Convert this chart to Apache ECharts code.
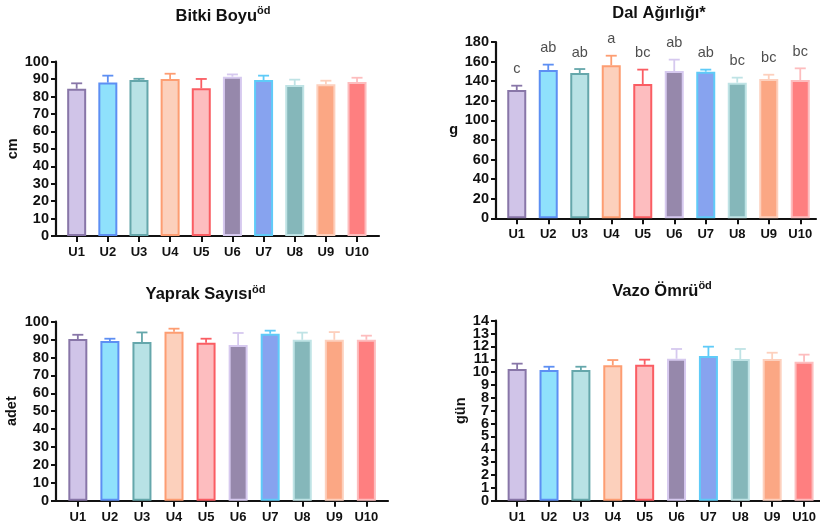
<!DOCTYPE html>
<html>
<head>
<meta charset="utf-8">
<script src="https://cdn.jsdelivr.net/npm/echarts@6/dist/echarts.min.js"></script>
<style>
html,body{margin:0;padding:0;background:#fff;}
#c{width:820px;height:528px;}
</style>
</head>
<body>
<div id="c"></div>
<script>
// ---------- data ----------
const categories = ['U1','U2','U3','U4','U5','U6','U7','U8','U9','U10'];

const bitkiBoyu    = [84.5, 88.0, 89.5, 90.1, 84.7, 91.4, 89.5, 86.6, 87.0, 88.4];
const bitkiBoyuErr = [3.1, 4.0, 0.7, 3.0, 5.4, 1.3, 2.5, 3.1, 2.1, 2.4];

const dalAgirligi    = [131.0, 151.4, 148.3, 156.2, 137.1, 150.4, 149.7, 138.5, 142.2, 141.2];
const dalAgirligiErr = [4.4, 5.5, 4.1, 9.8, 14.7, 11.6, 2.1, 5.1, 4.4, 11.9];
const dalLetters     = ['c','ab','ab','a','bc','ab','ab','bc','bc','bc'];

const yaprakSayisi    = [90.3, 89.2, 88.6, 94.4, 88.3, 87.0, 93.3, 89.9, 89.9, 89.9];
const yaprakSayisiErr = [2.4, 1.3, 5.4, 1.7, 2.2, 6.7, 1.7, 4.0, 4.3, 2.3];

const vazoOmru    = [10.24, 10.16, 10.16, 10.53, 10.58, 11.04, 11.25, 11.02, 11.02, 10.81];
const vazoOmruErr = [0.42, 0.26, 0.26, 0.41, 0.39, 0.76, 0.73, 0.78, 0.49, 0.55];

const yMax      = [100, 180, 100, 14];
const yInterval = [10, 20, 10, 1];
const yNames    = ['cm', 'g', 'adet', 'gün'];
const titles    = ['{t|Bitki Boyu}{s|öd}', '{t|Dal Ağırlığı*}', '{t|Yaprak Sayısı}{s|öd}', '{t|Vazo Ömrü}{s|öd}'];

// ---------- styles ----------
const fills   = ['#d0c4e8','#8fe1fc','#b8e2e5','#fcd0bc','#fdbdbf','#9688ab','#87a3ef','#85b7ba','#fba784','#fe7f80'];
const borders = ['#8876a8','#5d8ff3','#65a7ab','#fd9d72','#fa5d63','#d6c9ef','#5fcbf8','#bfe3e5','#fdd0bd','#fdbdbe'];
const F = '"Liberation Sans", Arial, Helvetica, sans-serif';
const INK = '#111';

// layout per panel: frame grid (axes) and bar grid (categories)
const frames = [
  {left: 56,  top: 61.7,  width: 323, height: 174.3},
  {left: 496, top: 42,    width: 320, height: 176.3},
  {left: 56,  top: 321.7, width: 332, height: 179},
  {left: 496, top: 320.7, width: 330, height: 180}
];
const barGrids = [
  {left: 61.1,  width: 311.5},
  {left: 501,   width: 315},
  {left: 61.8,  width: 320.6},
  {left: 501.2, width: 321.9}
];
const titlePos = [
  {x: 223, y: 5.5}, {x: 659, y: 3}, {x: 205.5, y: 284}, {x: 662, y: 280.5}
];
const nameGaps = [31, 38, 37, 27];

const values = [bitkiBoyu, dalAgirligi, yaprakSayisi, vazoOmru];
const errors = [bitkiBoyuErr, dalAgirligiErr, yaprakSayisiErr, vazoOmruErr];

const grid = [], xAxis = [], yAxis = [], series = [], title = [], extraY = [];
const labelStyle = {color: INK, fontWeight: 'bold', fontSize: 14.5, fontFamily: F, margin: 7};

for (let p = 0; p < 4; p++) {
  const fr = frames[p], bg = barGrids[p];
  grid.push({left: fr.left, top: fr.top, width: fr.width, height: fr.height});
  grid.push({left: bg.left, top: fr.top, width: bg.width, height: fr.height});

  // tick values split in two label sets so that dense labels are never auto-hidden
  const ticks = [];
  for (let v = 0; v <= yMax[p] + 1e-9; v += yInterval[p]) ticks.push(+v.toFixed(6));
  const evenTicks = ticks.filter((_, k) => k % 2 === 0);
  const oddTicks  = ticks.filter((_, k) => k % 2 === 1);

  // frame axes
  xAxis.push({
    gridIndex: 2*p, type: 'value', min: 0, max: 1,
    axisLine: {show: true, lineStyle: {color: INK, width: 2.2}},
    axisTick: {show: false}, axisLabel: {show: false}, splitLine: {show: false}
  });
  yAxis.push({
    gridIndex: 2*p, type: 'value', min: 0, max: yMax[p], interval: yInterval[p],
    axisLine: {show: true, lineStyle: {color: INK, width: 2.2}},
    axisTick: {show: true, length: 5, lineStyle: {color: INK, width: 2}},
    axisLabel: Object.assign({customValues: evenTicks, showMinLabel: true, showMaxLabel: true}, labelStyle),
    splitLine: {show: false},
    name: yNames[p], nameLocation: 'middle', nameGap: nameGaps[p],
    nameRotate: p === 1 ? 0 : 90,
    nameTextStyle: {color: INK, fontWeight: 'bold', fontSize: 14.5, fontFamily: F}
  });
  extraY.push({
    gridIndex: 2*p, type: 'value', min: 0, max: yMax[p], interval: yInterval[p],
    position: 'left', offset: 0,
    axisLine: {show: false}, axisTick: {show: false}, splitLine: {show: false},
    axisLabel: Object.assign({customValues: oddTicks, showMinLabel: true, showMaxLabel: true}, labelStyle)
  });

  // category axes for bars
  xAxis.push({
    gridIndex: 2*p+1, type: 'category', data: categories,
    axisLine: {show: false},
    axisTick: {show: true, alignWithLabel: true, length: 6, lineStyle: {color: INK, width: 2}},
    axisLabel: {color: INK, fontWeight: 'bold', fontSize: 13, fontFamily: F, margin: 10, interval: 0},
    splitLine: {show: false}
  });
  yAxis.push({
    gridIndex: 2*p+1, type: 'value', min: 0, max: yMax[p], interval: yInterval[p], show: false
  });

  const vals = values[p], errs = errors[p];

  series.push({
    type: 'custom', xAxisIndex: 2*p+1, yAxisIndex: 2*p+1, z: 1,
    data: vals.map((v, i) => [i, v, errs[i]]),
    renderItem: function (params, api) {
      const i = api.value(0), v = api.value(1), e = api.value(2);
      const p0 = api.coord([i, v]);
      const p1 = api.coord([i, v + e]);
      const col = borders[params.dataIndex];
      return {type: 'group', children: [
        {type: 'line', shape: {x1: p0[0], y1: p0[1], x2: p1[0], y2: p1[1]}, style: {stroke: col, lineWidth: 1.8}},
        {type: 'line', shape: {x1: p1[0]-5.5, y1: p1[1], x2: p1[0]+5.5, y2: p1[1]}, style: {stroke: col, lineWidth: 1.8}}
      ]};
    }
  });

  series.push({
    type: 'bar', xAxisIndex: 2*p+1, yAxisIndex: 2*p+1, z: 2, barWidth: 19,
    data: vals.map((v, i) => ({value: v, itemStyle: {color: fills[i], borderColor: borders[i], borderWidth: 2}}))
  });

  title.push({
    text: titles[p], left: titlePos[p].x, top: titlePos[p].y, textAlign: 'center', padding: 0,
    textStyle: {rich: {
      t: {fontSize: 16.5, fontWeight: 'bold', color: INK, fontFamily: F, lineHeight: 21},
      s: {fontSize: 11, fontWeight: 'bold', color: INK, fontFamily: F, lineHeight: 11, verticalAlign: 'top'}
    }}
  });
}
extraY.forEach(a => yAxis.push(a));

// significance letters for Dal Ağırlığı
series.push({
  type: 'scatter', xAxisIndex: 3, yAxisIndex: 3, symbolSize: 0, z: 3,
  data: dalAgirligi.map((v, i) => [i, v + dalAgirligiErr[i]]),
  label: {
    show: true, position: 'top', distance: 9,
    formatter: (prm) => dalLetters[prm.dataIndex],
    color: '#222', fontSize: 14.5, fontFamily: F
  }
});

const chart = echarts.init(document.getElementById('c'), null, {renderer: 'canvas'});
chart.setOption({
  animation: false,
  backgroundColor: '#fff',
  title, grid, xAxis, yAxis, series
});
</script>
</body>
</html>
